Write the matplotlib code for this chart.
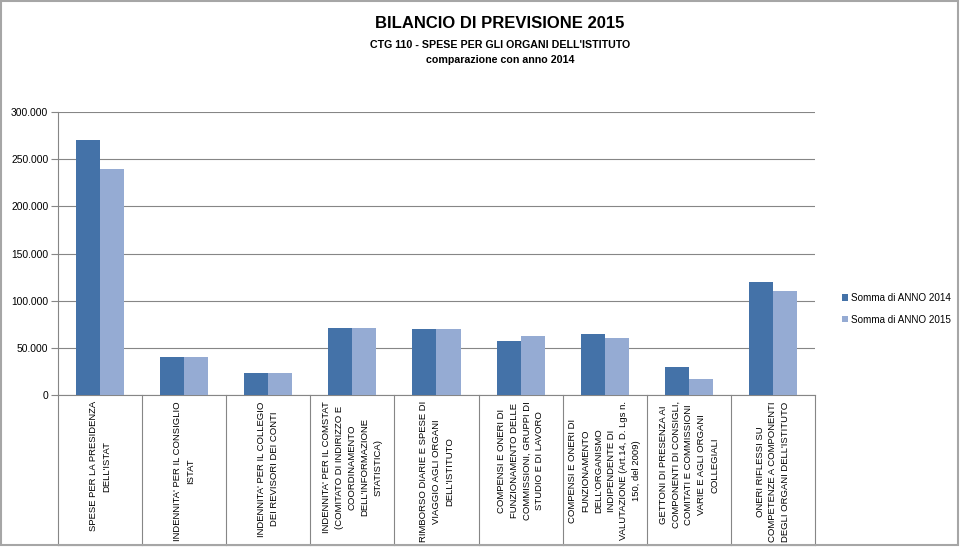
import matplotlib
matplotlib.use('Agg')
import matplotlib.pyplot as plt
import matplotlib.transforms as mtransforms
from matplotlib.ticker import FuncFormatter
import numpy as np

categories = [
    "SPESE PER LA PRESIDENZA\nDELL'ISTAT",
    "INDENNITA' PER IL CONSIGLIO\nISTAT",
    "INDENNITA' PER IL COLLEGIO\nDEI REVISORI DEI CONTI",
    "INDENNITA' PER IL COMSTAT\n(COMITATO DI INDIRIZZO E\nCOORDINAMENTO\nDELL'INFORMAZIONE\nSTATISTICA)",
    "RIMBORSO DIARIE E SPESE DI\nVIAGGIO AGLI ORGANI\nDELL'ISTITUTO",
    "COMPENSI E ONERI DI\nFUNZIONAMENTO DELLE\nCOMMISSIONI, GRUPPI DI\nSTUDIO E DI LAVORO",
    "COMPENSI E ONERI DI\nFUNZIONAMENTO\nDELL'ORGANISMO\nINDIPENDENTE DI\nVALUTAZIONE (Art.14, D. Lgs n.\n150, del 2009)",
    "GETTONI DI PRESENZA AI\nCOMPONENTI DI CONSIGLI,\nCOMITATI E COMMISSIONI\nVARIE E AGLI ORGANI\nCOLLEGIALI",
    "ONERI RIFLESSI SU\nCOMPETENZE A COMPONENTI\nDEGLI ORGANI DELL'ISTITUTO",
]
anno_2014 = [270000, 40000, 23000, 71000, 70000, 57000, 65000, 30000, 120000]
anno_2015 = [240000, 40000, 23000, 71000, 70000, 62500, 60000, 17000, 110000]
series_names = ["Somma di ANNO 2014", "Somma di ANNO 2015"]
yticks = [0, 50000, 100000, 150000, 200000, 250000, 300000]

plt.rcParams['font.family'] = ['Liberation Sans', 'DejaVu Sans']

W, H = 960, 547
fig = plt.figure(figsize=(W / 100, H / 100), dpi=100)

# chart border
fig.patches.append(plt.Rectangle((1 / W, 2 / H), 957 / W, 544 / H, transform=fig.transFigure,
                                 fill=False, edgecolor='#a6a6a6', linewidth=1.5))

left, right, top, bottom = 58, 815, 112, 395
ax = fig.add_axes([left / W, 1 - bottom / H, (right - left) / W, (bottom - top) / H])

x = np.arange(len(categories))
w = 1 / 3.5
ax.bar(x - w / 2, anno_2014, w, color='#4472a8', label=series_names[0], zorder=3)
ax.bar(x + w / 2, anno_2015, w, color='#95abd3', label=series_names[1], zorder=3)

ax.set_xlim(-0.5, len(categories) - 0.5)
ax.set_ylim(0, 300000)
ax.set_yticks(yticks)
ax.yaxis.set_major_formatter(FuncFormatter(lambda v, p: '{:,.0f}'.format(v).replace(',', '.')))
ax.tick_params(axis='y', length=5, color='#868686', labelsize=7.4, pad=2)
ax.set_xticks([])
ax.grid(axis='y', color='#868686', linewidth=0.8, zorder=0)
for s in ['top', 'right']:
    ax.spines[s].set_visible(False)
ax.spines['left'].set_color('#868686')
ax.spines['bottom'].set_color('#868686')

# category boxes under the axis
depth = (545 - bottom) / (bottom - top)
trans = mtransforms.blended_transform_factory(ax.transData, ax.transAxes)
for k in range(len(categories) + 1):
    ax.plot([k - 0.5, k - 0.5], [0, -depth], color='#868686', linewidth=0.8,
            transform=trans, clip_on=False)
ax.plot([-0.5, len(categories) - 0.5], [-depth, -depth], color='#868686', linewidth=0.8,
        transform=trans, clip_on=False)
for i, label in enumerate(categories):
    ax.text(i, -0.022, label, transform=trans, rotation=90, ha='center', va='top',
            multialignment='center', fontsize=6.8, linespacing=1.55)

fig.text(500 / W, 1 - 23 / H, 'BILANCIO DI PREVISIONE 2015', ha='center', va='center',
         fontsize=12, fontweight='bold')
fig.text(500 / W, 1 - 45 / H, "CTG 110 - SPESE PER GLI ORGANI DELL'ISTITUTO", ha='center',
         va='center', fontsize=7.7, fontweight='bold')
fig.text(500 / W, 1 - 60 / H, 'comparazione con anno 2014', ha='center', va='center',
         fontsize=7.7, fontweight='bold')

fig.legend(loc='upper left', bbox_to_anchor=(838 / W, 1 - 289 / H), frameon=False,
           fontsize=7.1, handlelength=0.6, handleheight=0.6, handletextpad=0.3,
           labelspacing=1.2, borderaxespad=0)

fig.savefig('out.png', dpi=100)
